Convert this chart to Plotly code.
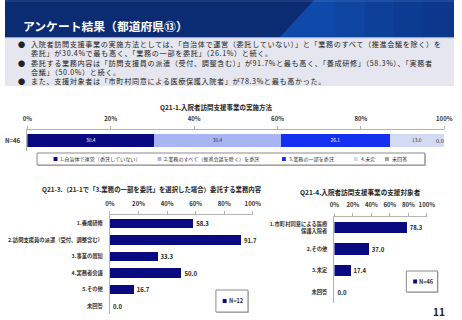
import plotly.graph_objects as go

W, H = 462, 320

# ---------------- data ----------------
q1_title = "Q21-1.入院者訪問支援事業の実施方法"
q1_series = ["1.自治体で運営（委託していない）", "2.業務のすべて（推進会議を除く）を委託",
             "3.業務の一部を委託", "4.未定", "未回答"]
q1_values = [30.4, 30.4, 26.1, 13.0, 0.0]
q1_row = "N=46"

q3_title = "Q21-3.（21-1で「3.業務の一部を委託」を選択した場合）委託する業務内容"
q3_categories = ["1.養成研修", "2.訪問支援員の派遣（受付、調整含む）", "3.事業の周知",
                 "4.実務者会議", "5.その他", "未回答"]
q3_values = [58.3, 91.7, 33.3, 50.0, 16.7, 0.0]
q3_n = 12

q4_title = "Q21-4.入院者訪問支援事業の支援対象者"
q4_categories = ["1.市町村同意による医療<br>保護入院者", "2.その他", "3.未定", "未回答"]
q4_values = [78.3, 37.0, 17.4, 0.0]
q4_n = 46

x_ticks = [0, 20, 40, 60, 80, 100]
x_tick_labels = ["0%", "20%", "40%", "60%", "80%", "100%"]

page_title = "アンケート結果（都道府県⑬）"
bullet_lines = [
    (True, "入院者訪問支援事業の実施方法としては、「自治体で運営（委託していない）」と「業務のすべて（推進会議を除く）を"),
    (False, "委託」が30.4%で最も高く、「業務の一部を委託」（26.1%）と続く。"),
    (True, "委託する業務内容は「訪問支援員の派遣（受付、調整含む）」が91.7%と最も高く、「養成研修」（58.3%）、「実務者"),
    (False, "会議」（50.0%）と続く。"),
    (True, "また、支援対象者は「市町村同意による医療保護入院者」が78.3%と最も高かった。"),
]
page_no = "11"

# ---------------- styles ----------------
FONT = "Noto Sans CJK JP"
NAVY = "#0a0a80"
q1_colors = ["#0a0a80", "#a9b4f5", "#1430f0", "#d3daf3", "#a0a0a0"]
q1_text_colors = ["#ffffff", "#333333", "#ffffff", "#333333", "#333333"]
AX = "#b4b4b4"


def px(x):
    return x / W


def py(y):
    return 1 - y / H


fig = go.Figure()

# chart 1 (stacked)
for name, v, c, tc in zip(q1_series, q1_values, q1_colors, q1_text_colors):
    fig.add_trace(go.Bar(
        x=[v], y=[q1_row], orientation="h", name=name,
        marker=dict(color=c, line=dict(width=0)),
        text=[f"{v:.1f}"] if v > 0 else None,
        textposition="inside", insidetextanchor="middle",
        textfont=dict(size=5.6, color=tc, family=FONT),
        width=0.62, xaxis="x", yaxis="y", showlegend=False,
        hoverinfo="skip",
    ))

# chart 2
fig.add_trace(go.Bar(
    x=q3_values, y=q3_categories, orientation="h",
    marker=dict(color=NAVY, line=dict(width=0)), width=0.55,
    text=[f"{v:.1f}" for v in q3_values], textposition="outside",
    textfont=dict(size=6, color="#222222", family=FONT, weight="bold"),
    constraintext="none", cliponaxis=False,
    xaxis="x2", yaxis="y2", showlegend=False, hoverinfo="skip",
))

# chart 3
fig.add_trace(go.Bar(
    x=q4_values, y=q4_categories, orientation="h",
    marker=dict(color=NAVY, line=dict(width=0)), width=0.53,
    text=[f"{v:.1f}" for v in q4_values], textposition="outside",
    textfont=dict(size=6, color="#222222", family=FONT, weight="bold"),
    constraintext="none", cliponaxis=False,
    xaxis="x3", yaxis="y3", showlegend=False, hoverinfo="skip",
))

tickfont = dict(size=6, color="#333333", family=FONT, weight="bold")
catfont = dict(size=5.3, color="#333333", family=FONT, weight="bold")


def xaxis(dom, anchor):
    return dict(domain=dom, anchor=anchor, side="top", range=[0, 100],
                tickmode="array", tickvals=x_ticks, ticktext=x_tick_labels,
                showgrid=False, zeroline=False,
                showline=True, linecolor=AX, linewidth=1, ticks="outside",
                ticklen=3, tickcolor=AX, tickfont=tickfont, ticklabelstandoff=3,
                fixedrange=True)


def yaxis(dom, anchor, rng, cats, font):
    return dict(domain=dom, anchor=anchor, range=rng, type="category",
                categoryorder="array", categoryarray=cats,
                showgrid=False, zeroline=False, showline=True, linecolor=AX,
                linewidth=1, ticks="", tickfont=font, ticklabelstandoff=5,
                fixedrange=True)


fig.update_layout(
    width=W, height=H, margin=dict(l=0, r=0, t=0, b=0),
    paper_bgcolor="white", plot_bgcolor="white",
    barmode="stack", font=dict(family=FONT),
    xaxis=xaxis([px(23), px(452)], "y"),
    yaxis=yaxis([py(151), py(130)], "x", [-0.5, 0.5], [q1_row], tickfont),
    xaxis2=xaxis([px(108), px(255)], "y2"),
    yaxis2=yaxis([py(314.25), py(215.25)], "x2", [len(q3_categories) - 0.5, -0.5],
                 q3_categories, catfont),
    xaxis3=xaxis([px(339), px(434)], "y3"),
    yaxis3=yaxis([py(302.75), py(216.75)], "x3", [len(q4_categories) - 0.5, -0.5],
                 q4_categories, catfont),
)

shapes = []
ann = []


def rect(x0, y0, x1, y1, fill, line=None, lw=0):
    shapes.append(dict(type="rect", xref="paper", yref="paper",
                       x0=px(x0), x1=px(x1), y0=py(y1), y1=py(y0),
                       fillcolor=fill, line=dict(color=line or fill, width=lw),
                       layer="below" if line is None else "above"))


def text(x, y, s, size, color="#222222", bold=False, xanchor="left", align="left"):
    ann.append(dict(xref="paper", yref="paper", x=px(x), y=py(y), text=s,
                    showarrow=False, xanchor=xanchor, yanchor="middle", borderpad=0,
                    align=align,
                    font=dict(size=size, color=color, family=FONT,
                              weight="bold" if bold else "normal")))


# header
rect(0, 0, W, 37, "#0b2b73")
shapes.append(dict(type="path", xref="paper", yref="paper",
                   path=f"M {px(318)},{py(0)} L {px(W)},{py(0)} L {px(W)},{py(37)} L {px(283)},{py(37)} Z",
                   fillcolor="#0f4aaa", line=dict(width=0), layer="below"))
for x0, a in [(340, 0.12), (370, 0.12), (400, 0.12), (430, 0.1)]:
    rect(x0, 0, W, 37, f"rgba(8,30,100,{a})")
rect(0, 0, W, 2, "rgba(255,255,255,0.08)")
rect(0, 37, W, 38.5, "#9aa3c0")
text(17, 25, page_title, 11.8, "#ffffff", bold=True)

# bullet box: one multi-line text block + one bullet column
rect(0, 38.5, W, 86, "#e5e6ef")
BSIZE = 7.15
body = "<br>".join(f'<span style="letter-spacing:0.62px">{s}</span>' for _, s in bullet_lines)
bullets = "<br>".join("●" if b else " " for b, _ in bullet_lines)
text(26, 62.8, body, BSIZE, "#222222")
text(17, 62.8, bullets, BSIZE, "#222222", xanchor="center", align="center")

# chart titles
text(218, 107, q1_title, 6.5, "#222222", bold=True, xanchor="center")
text(37, 189, q3_title, 6.4, "#222222", bold=True)
text(303, 192, q4_title, 6.6, "#222222", bold=True)

# zero label for last stacked segment
ann.append(dict(xref="x", yref="y", x=sum(q1_values), y=q1_row,
                text=f"{q1_values[-1]:.1f}", showarrow=False, xanchor="right",
                xshift=2, font=dict(size=5.6, color="#333333", family=FONT)))

# chart 1 legend (manual)
rect(34, 154, 433, 166, "#b8b8b8")
rect(33, 153, 432, 165, "#ffffff", line="#8a8a8a", lw=1)
leg_x = [52, 159, 287, 361, 393]
for name, c, lx in zip(q1_series, q1_colors, leg_x):
    rect(lx - 2, 157, lx + 2, 161, c, line=c, lw=0)
    text(lx + 4, 159, name, 5.1, "#333333")

# N legends
for (x0, y0, x1, y1), n in [((217, 290, 250, 312), q3_n), ((413, 271, 445, 292), q4_n)]:
    rect(x0 + 1, y0 + 1, x1 + 1, y1 + 1, "#c0c0c0", line="#c0c0c0", lw=0)
    rect(x0, y0, x1, y1, "#ffffff", line="#8a8a8a", lw=1)
    cy = (y0 + y1) / 2
    rect(x0 + 7, cy - 2, x0 + 11, cy + 2, NAVY, line=NAVY, lw=0)
    text(x0 + 12, cy, f"N={n}", 5.6, "#333333", bold=True)

text(447, 311, page_no, 10, "#222222", bold=True, xanchor="center")

fig.update_layout(shapes=shapes, annotations=ann)
fig.write_html("out.html")
